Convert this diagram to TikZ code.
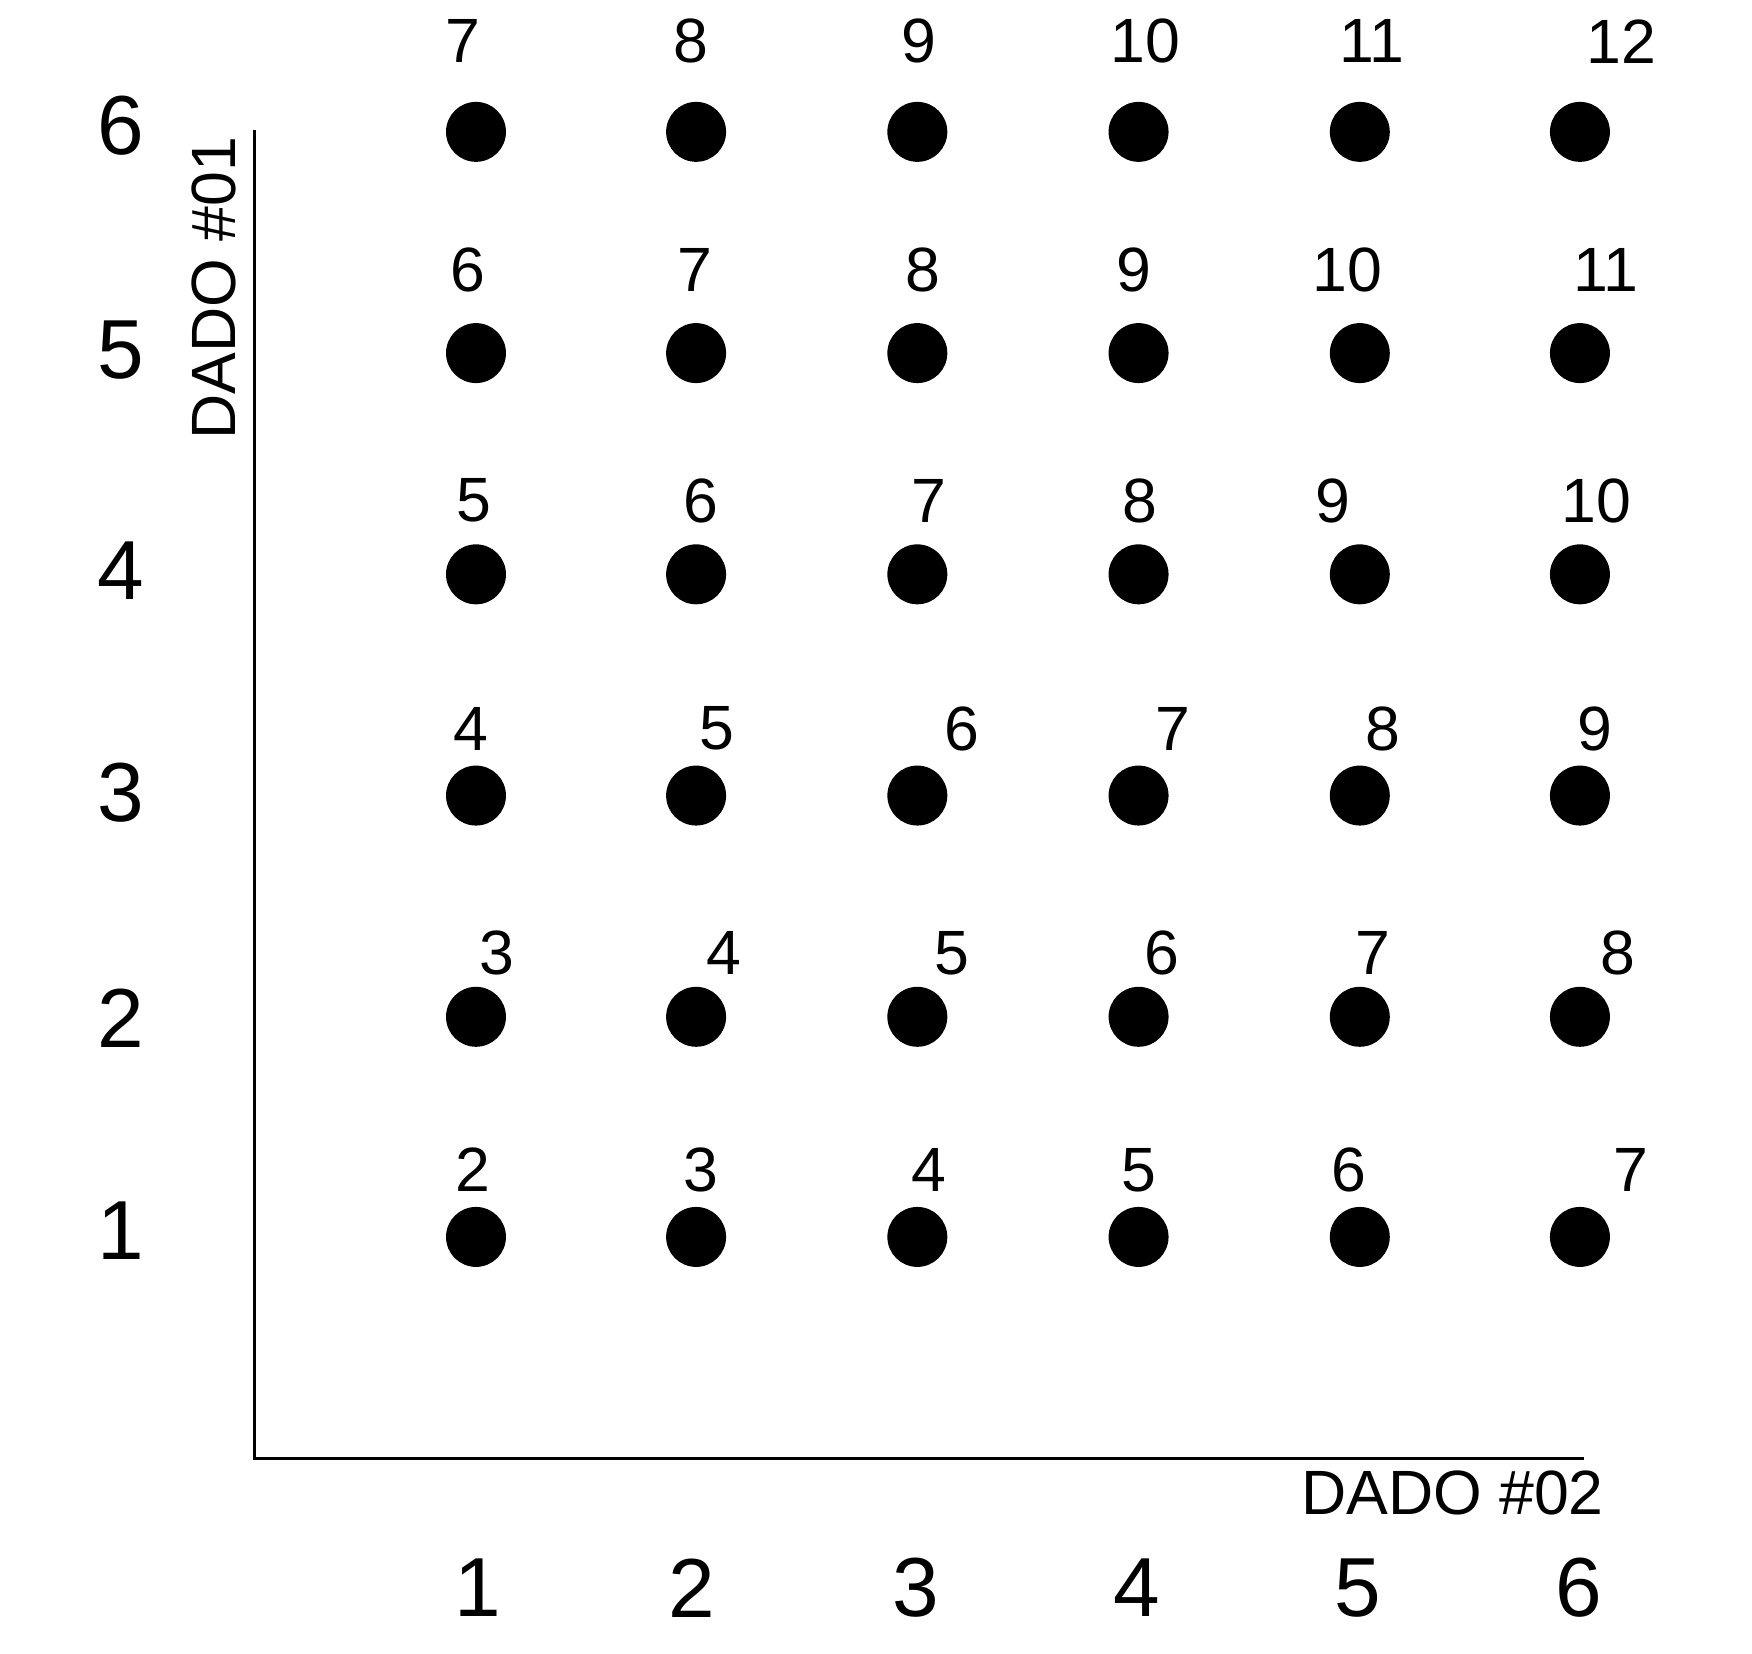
\documentclass[tikz,border=0pt]{standalone}
\usepackage{fontspec}
\setmainfont{Liberation Sans}
\begin{document}
\begin{tikzpicture}[x=0.3pt,y=-0.3pt,
  dot/.style={circle,fill=black,inner sep=0pt,minimum size=16.1pt},
  axnum/.style={inner sep=0pt,font=\fontsize{22.5}{24}\selectfont},
  sumlab/.style={inner sep=0pt,font=\fontsize{16.8}{19}\selectfont},
  axlab/.style={inner sep=0pt,font=\fontsize{16.8}{19}\selectfont},
  axisline/.style={line width=0.8pt,line cap=rect}]
\useasboundingbox (0,0) rectangle (1568,1480);
% axes
\coordinate (ytop) at (228,118);
\coordinate (orig) at (228,1305);
\coordinate (xend) at (1416,1305);
\draw[axisline] (ytop) -- (orig) -- (xend);
% axis titles
\node[axlab,rotate=90] (t1) at (191.5,258) {DADO \#01};
\node[axlab] (t2) at (1300,1336) {DADO \#02};
% y axis numbers
\foreach \n/\yy in {1/1101,2/911,3/709,4/511,5/313,6/112}
  \node[axnum] (y\n) at (108,\yy) {\n};
% x axis numbers
\foreach \n/\xx in {1/428,2/619,3/820,4/1017,5/1215,6/1413}
  \node[axnum] (x\n) at (\xx,1421) {\n};
% dots
\foreach \r/\yy in {1/1107,2/910,3/712,4/514,5/316,6/118}
  \foreach \c/\xx in {1/426,2/623,3/821,4/1019,5/1217,6/1414}
    \node[dot] (d\r\c) at (\xx,\yy) {};
% sum labels
\foreach \c/\xx/\v in {1/423/2,2/627/3,3/831/4,4/1019/5,5/1207/6,6/1460/7}
  \node[sumlab] (s1\c) at (\xx,1047) {\v};
\foreach \c/\xx/\v in {1/445/3,2/648/4,3/852/5,4/1040/6,5/1229/7,6/1448/8}
  \node[sumlab] (s2\c) at (\xx,853) {\v};
\foreach \c/\xx/\v in {1/421/4,2/642/5,3/861/6,4/1050/7,5/1238/8,6/1427/9}
  \node[sumlab] (s3\c) at (\xx,652) {\v};
\foreach \c/\xx/\v in {1/424/5,2/627/6,3/831/7,4/1020/8,5/1193/9,6/1429/10}
  \node[sumlab] (s4\c) at (\xx,448) {\v};
\foreach \c/\xx/\v in {1/419/6,2/622/7,3/826/8,4/1015/9,5/1206/10,6/1437/11}
  \node[sumlab] (s5\c) at (\xx,242) {\v};
\foreach \c/\xx/\v in {1/414/7,2/618/8,3/822/9,4/1025/10,5/1228/11,6/1451/12}
  \node[sumlab] (s6\c) at (\xx,37) {\v};
\end{tikzpicture}
\end{document}
